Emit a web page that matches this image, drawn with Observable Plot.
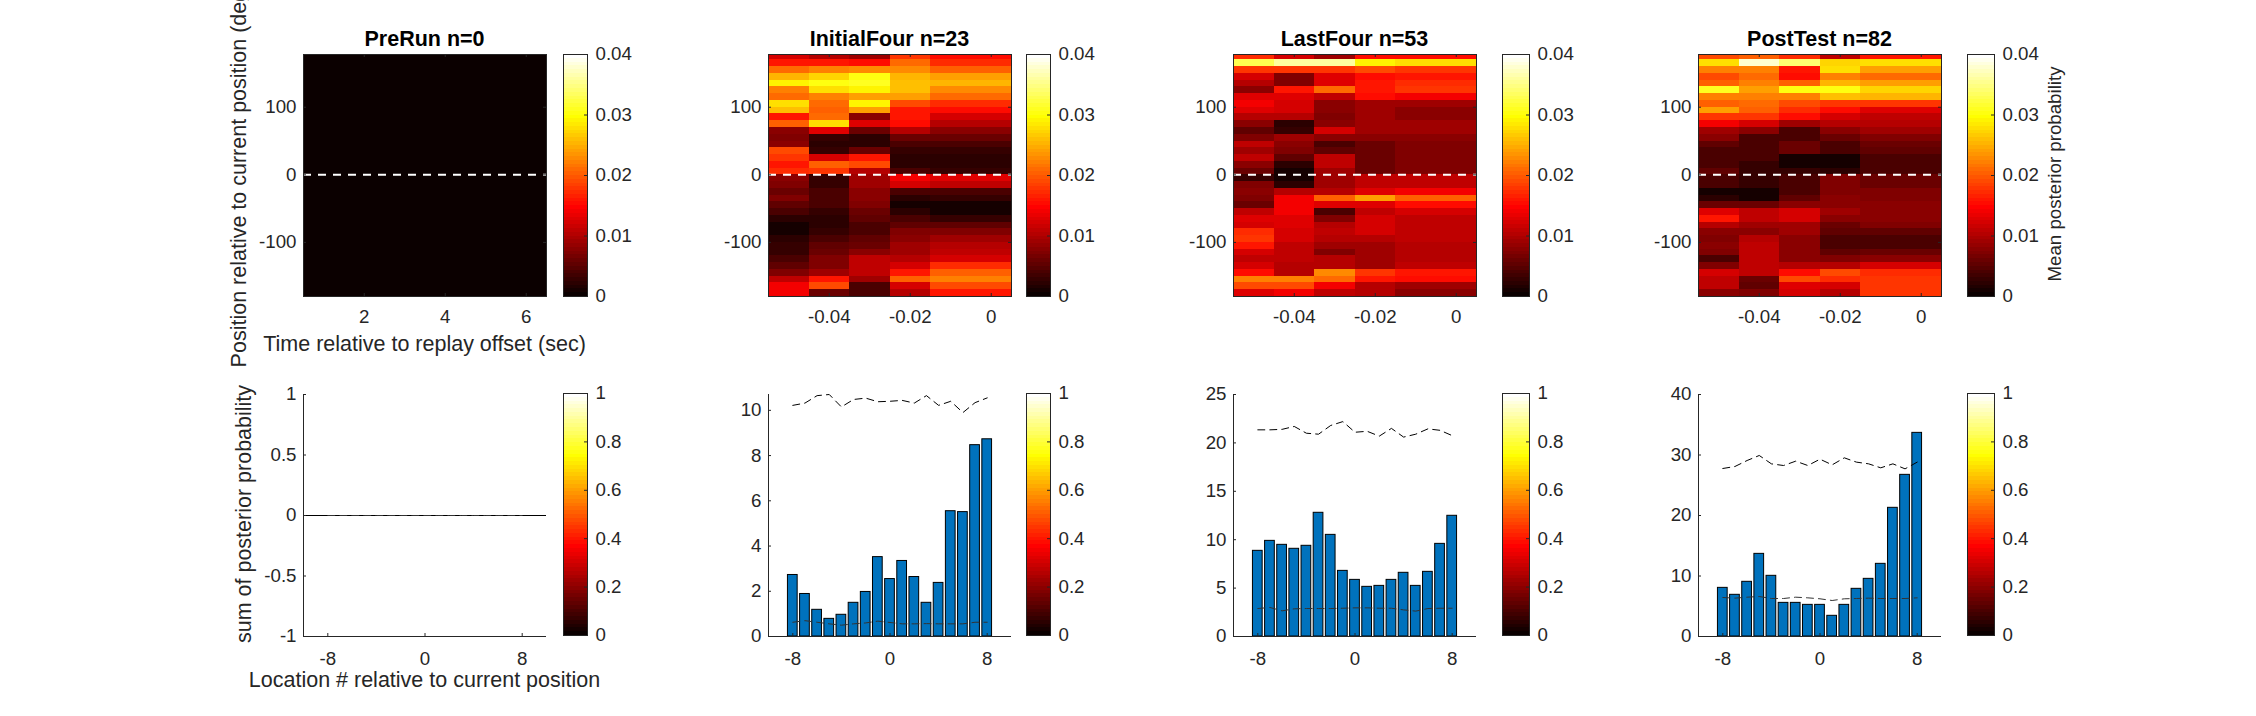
<!DOCTYPE html>
<html>
<head>
<meta charset="utf-8">
<script src="https://cdn.jsdelivr.net/npm/d3@7"></script>
<script src="https://cdn.jsdelivr.net/npm/@observablehq/plot@0.6"></script>
<style>
  html, body { margin: 0; padding: 0; background: #fff; }
  #root { position: relative; width: 2256px; height: 716px; overflow: hidden; background: #fff; }
  #root svg { overflow: visible; }
</style>
</head>
<body>
<div id="root"></div>
<script>
// ---------------- DATA ----------------
const panelTitles = ["PreRun n=0", "InitialFour n=23", "LastFour n=53", "PostTest n=82"];
const timeBins = [-0.05, -0.04, -0.03, -0.02, -0.01, 0];
const preRunTimeBins = [1, 2, 3, 4, 5, 6];
const positionBins = [175,165,155,145,135,125,115,105,95,85,75,65,55,45,35,25,15,5,-5,-15,-25,-35,-45,-55,-65,-75,-85,-95,-105,-115,-125,-135,-145,-155,-165,-175];
const heatXTicks = [-0.04, -0.02, 0];
const preRunXTicks = [2, 4, 6];
const heatYTicks = [-100, 0, 100];
const heatColorTicks = [0, 0.01, 0.02, 0.03, 0.04];
const barColorTicks = [0, 0.2, 0.4, 0.6, 0.8, 1];

// mean posterior probability maps: one array per time bin, rows from +175 deg (top) to -175 deg (bottom)
const preRunColumn = [0,0,0,0,0,0,0,0,0,0,0,0,0,0,0,0,0,0,0,0,0,0,0,0,0,0,0,0,0,0,0,0,0,0,0,0];
const preRunMap = [preRunColumn, preRunColumn, preRunColumn, preRunColumn, preRunColumn, preRunColumn];

const initialFourMap = [
 [.012,.016,.021,.025,.029,.022,.021,.028,.026,.016,.020,.008,.007,.008,.019,.018,.016,.017,.008,.007,.006,.007,.005,.004,.002,.001,.001,.002,.003,.003,.004,.005,.007,.011,.014,.014],
 [.010,.016,.022,.027,.030,.028,.022,.021,.020,.021,.028,.013,.003,.002,.003,.012,.020,.018,.003,.003,.004,.004,.004,.003,.002,.002,.003,.004,.005,.006,.007,.007,.009,.016,.019,.006],
 [.009,.015,.023,.030,.031,.029,.024,.029,.024,.008,.013,.006,.002,.002,.006,.016,.019,.010,.009,.009,.008,.008,.007,.006,.005,.004,.004,.005,.006,.008,.011,.011,.011,.009,.004,.004],
 [.018,.021,.023,.025,.026,.026,.024,.019,.016,.016,.015,.010,.006,.004,.003,.002,.002,.004,.014,.012,.004,.002,.001,.002,.004,.005,.007,.008,.009,.009,.010,.012,.016,.020,.012,.010],
 [.015,.017,.020,.024,.025,.023,.021,.017,.015,.012,.010,.008,.006,.004,.003,.002,.002,.003,.013,.011,.004,.003,.001,.001,.003,.005,.007,.009,.010,.011,.012,.017,.020,.022,.019,.016],
 [.015,.017,.020,.024,.025,.023,.021,.017,.015,.012,.010,.008,.006,.004,.003,.002,.002,.003,.013,.011,.004,.003,.001,.001,.003,.005,.007,.009,.010,.011,.012,.017,.020,.022,.019,.016]
];
const lastFourMap = [
 [.017,.033,.018,.012,.010,.008,.013,.014,.013,.010,.008,.005,.007,.011,.009,.011,.008,.006,.003,.007,.008,.007,.006,.011,.013,.012,.017,.018,.016,.012,.011,.012,.015,.022,.019,.013],
 [.012,.036,.018,.007,.007,.016,.013,.012,.012,.010,.002,.003,.009,.008,.007,.005,.002,.001,.001,.002,.010,.014,.014,.014,.013,.013,.012,.012,.011,.011,.011,.010,.010,.022,.019,.014],
 [.009,.036,.018,.013,.013,.021,.011,.008,.008,.007,.008,.012,.008,.004,.005,.011,.011,.009,.009,.009,.010,.020,.013,.004,.007,.010,.011,.010,.009,.007,.010,.010,.023,.021,.014,.011],
 [.015,.029,.019,.015,.016,.016,.015,.009,.009,.009,.009,.009,.008,.006,.006,.006,.006,.006,.011,.011,.013,.024,.013,.011,.012,.012,.012,.010,.009,.009,.009,.009,.018,.016,.010,.010],
 [.015,.028,.018,.016,.017,.018,.014,.009,.008,.008,.009,.009,.008,.007,.007,.007,.007,.007,.011,.011,.014,.020,.015,.012,.011,.011,.011,.011,.010,.010,.010,.011,.016,.015,.009,.008],
 [.015,.028,.018,.016,.017,.018,.014,.009,.008,.008,.009,.009,.008,.007,.007,.007,.007,.007,.011,.011,.014,.020,.015,.012,.011,.011,.011,.011,.010,.010,.010,.011,.016,.015,.009,.008]
];
const postTestMap = [
 [.019,.028,.022,.019,.020,.031,.022,.020,.024,.018,.014,.009,.008,.005,.004,.004,.004,.005,.004,.004,.001,.002,.006,.013,.016,.010,.008,.007,.008,.007,.004,.007,.012,.011,.011,.008],
 [.020,.038,.022,.021,.022,.024,.022,.021,.020,.018,.012,.008,.004,.004,.004,.004,.003,.003,.003,.003,.001,.001,.006,.011,.011,.009,.008,.010,.011,.011,.011,.011,.011,.006,.005,.007],
 [.017,.034,.016,.015,.020,.030,.022,.019,.017,.015,.009,.004,.004,.006,.006,.001,.001,.003,.004,.004,.004,.005,.008,.012,.012,.009,.009,.008,.008,.008,.008,.010,.015,.019,.013,.012],
 [.011,.027,.028,.022,.025,.030,.026,.018,.015,.012,.010,.008,.006,.004,.004,.001,.001,.002,.007,.007,.007,.008,.008,.009,.008,.006,.005,.004,.004,.005,.007,.010,.019,.017,.012,.010],
 [.016,.028,.024,.021,.024,.027,.025,.018,.013,.011,.010,.009,.007,.006,.005,.004,.004,.004,.006,.006,.007,.007,.008,.008,.008,.007,.005,.004,.004,.006,.008,.012,.017,.018,.018,.018],
 [.016,.028,.024,.021,.024,.027,.025,.018,.013,.011,.010,.009,.007,.006,.005,.004,.004,.004,.006,.006,.007,.007,.008,.008,.008,.007,.005,.004,.004,.006,.008,.012,.017,.018,.018,.018]
];

// sum of posterior probability per relative location
const locations = [-8,-7,-6,-5,-4,-3,-2,-1,0,1,2,3,4,5,6,7,8];
const barXTicks = [-8, 0, 8];
const preRunSums  = [0,0,0,0,0,0,0,0,0,0,0,0,0,0,0,0,0];
const preRunUpper = [0,0,0,0,0,0,0,0,0,0,0,0,0,0,0,0,0];
const preRunLower = [0,0,0,0,0,0,0,0,0,0,0,0,0,0,0,0,0];
const initialFourSums  = [2.72,1.88,1.18,0.78,0.96,1.49,1.97,3.51,2.54,3.34,2.63,1.49,2.37,5.54,5.50,8.46,8.72];
const initialFourUpper = [10.22,10.32,10.65,10.70,10.15,10.48,10.54,10.38,10.40,10.44,10.32,10.65,10.22,10.40,9.90,10.34,10.55];
const initialFourLower = [0.63,0.70,0.63,0.56,0.50,0.56,0.60,0.68,0.62,0.56,0.56,0.57,0.56,0.56,0.56,0.63,0.63];
const lastFourSums  = [8.85,9.88,9.47,9.06,9.37,12.78,10.50,6.78,5.85,5.13,5.23,5.85,6.58,5.23,6.68,9.57,12.47];
const lastFourUpper = [21.35,21.35,21.40,21.70,21.00,20.90,21.80,22.20,21.10,21.20,20.70,21.50,20.60,20.90,21.45,21.30,20.75];
const lastFourLower = [2.89,3.00,2.65,2.86,2.89,2.89,2.89,2.92,2.96,2.96,2.92,2.92,2.75,2.62,2.89,2.92,2.92];
const postTestSums  = [8.04,6.89,9.04,13.66,10.03,5.56,5.56,5.23,5.23,3.42,5.23,7.88,9.53,12.01,21.27,26.72,33.66];
const postTestUpper = [27.77,28.10,29.09,29.92,28.54,28.26,28.98,28.26,29.31,28.37,29.53,28.82,28.54,27.88,28.54,27.71,28.82];
const postTestLower = [6.45,6.34,6.50,6.61,6.28,6.28,6.50,6.39,6.23,5.95,6.23,6.28,6.34,6.28,6.28,6.28,6.39];
const barYDomains = [[-1, 1], [0, 10.7], [0, 25], [0, 40]];
const barYTicks = [[-1, -0.5, 0, 0.5, 1], [0, 2, 4, 6, 8, 10], [0, 5, 10, 15, 20, 25], [0, 10, 20, 30, 40]];

// ---------------- LAYOUT ----------------
const FONT = '"Liberation Sans", Arial, Helvetica, sans-serif';
const TXT = "#262626";
const TICK_FS = 18.7;
const LABEL_FS = 21.5;
const colLeft = [303, 768, 1233, 1698];
const axW = 243, axH = 242;
const topRowTop = 54, botRowTop = 394;
const cbLeft = [563, 1026, 1502, 1967];
const cbW = [24, 24, 27, 27];
const root = document.getElementById("root");

// MATLAB "hot" colormap, 64 levels
function hot64(i) {
  const k = i + 1;
  const r = Math.min(1, k / 24);
  const g = Math.min(1, Math.max(0, (k - 24) / 24));
  const b = Math.max(0, (k - 48) / 16);
  return `rgb(${Math.round(r * 255)},${Math.round(g * 255)},${Math.round(b * 255)})`;
}
const hotInterp = t => hot64(Math.max(0, Math.min(63, Math.floor(t * 64))));

function place(el, left, top) {
  el.style.position = "absolute";
  el.style.left = left + "px";
  el.style.top = top + "px";
  root.appendChild(el);
}
function textDiv(str, cx, cy, opts = {}) {
  const d = document.createElement("div");
  d.textContent = str;
  Object.assign(d.style, {
    position: "absolute", left: cx + "px", top: cy + "px",
    transform: "translate(-50%,-50%)" + (opts.rotate ? " rotate(-90deg)" : ""),
    fontFamily: FONT, fontSize: (opts.size || LABEL_FS) + "px", fontWeight: opts.weight || "normal",
    lineHeight: "1", whiteSpace: "nowrap", color: opts.color || TXT
  });
  root.appendChild(d);
}
const plotStyle = {fontFamily: FONT, fontSize: TICK_FS + "px", color: TXT, background: "transparent", overflow: "visible"};

function heatPanel(map, xBins, halfW, xDomain, xTicks, left, top) {
  const mL = 70, mR = 6, mT = 6, mB = 40;
  const yD = [-180, 178];
  const tick = 3;
  const xLen = (xDomain[1] - xDomain[0]) * tick / axW;
  const yLen = (yD[1] - yD[0]) * tick / axH;
  const cells = [];
  map.forEach((col, i) => col.forEach((v, j) => cells.push({
    x1: xBins[i] - halfW, x2: xBins[i] + halfW, y1: positionBins[j] - 5, y2: positionBins[j] + 5, v
  })));
  const svg = Plot.plot({
    width: axW + mL + mR, height: axH + mT + mB,
    marginLeft: mL, marginRight: mR, marginTop: mT, marginBottom: mB,
    style: plotStyle,
    x: {domain: xDomain, axis: null},
    y: {domain: yD, axis: null},
    color: {type: "linear", domain: [0, 0.04], interpolate: hotInterp, clamp: true},
    marks: [
      Plot.rect(cells, {x1: "x1", x2: "x2", y1: "y1", y2: "y2", fill: "v", clip: true, shapeRendering: "crispEdges"}),
      Plot.ruleY([0], {stroke: "white", strokeWidth: 2, strokeDasharray: "8,7"}),
      Plot.ruleX(xTicks, {y1: yD[0], y2: yD[0] + yLen, stroke: TXT}),
      Plot.ruleX(xTicks, {y1: yD[1] - yLen, y2: yD[1], stroke: TXT}),
      Plot.ruleY(heatYTicks, {x1: xDomain[0], x2: xDomain[0] + xLen, stroke: TXT}),
      Plot.ruleY(heatYTicks, {x1: xDomain[1] - xLen, x2: xDomain[1], stroke: TXT}),
      Plot.frame({stroke: TXT}),
      Plot.axisX(xTicks, {tickSize: 0, tickPadding: 13.5, tickFormat: d => String(d), label: null}),
      Plot.axisY(heatYTicks, {tickSize: 0, tickPadding: 7, tickFormat: d => String(d), label: null})
    ]
  });
  place(svg, left - mL, top - mT);
}

function colorbar(max, ticks, left, top, w) {
  const mL = 2, mR = 50, mT = 12, mB = 12, h = 242;
  const levels = d3.range(64);
  const tick = 3;
  const svg = Plot.plot({
    width: w + mL + mR, height: h + mT + mB,
    marginLeft: mL, marginRight: mR, marginTop: mT, marginBottom: mB,
    style: plotStyle,
    x: {domain: [0, 1], axis: null},
    y: {domain: [0, max], axis: null},
    color: {type: "identity"},
    marks: [
      Plot.rect(levels, {x1: 0, x2: 1, y1: i => i * max / 64, y2: i => (i + 1) * max / 64, fill: i => hot64(i), shapeRendering: "crispEdges"}),
      Plot.ruleY(ticks, {x1: 1 - tick / w, x2: 1, stroke: TXT}),
      Plot.frame({stroke: TXT}),
      Plot.axisY(ticks, {anchor: "right", tickSize: 0, tickPadding: 8, tickFormat: d => String(d), label: null})
    ]
  });
  place(svg, left - mL, top - mT);
}

function barPanel(sums, upper, lower, yDomain, yTicks, left, top, drawBaseline) {
  const mL = 70, mR = 6, mT = 10, mB = 40;
  const xD = [-10, 10];
  const tick = 3;
  const xLen = (xD[1] - xD[0]) * tick / axW;
  const yLen = (yDomain[1] - yDomain[0]) * tick / axH;
  const bars = locations.map((loc, i) => ({loc, v: sums[i]}));
  const up = locations.map((loc, i) => ({loc, v: upper[i]}));
  const lo = locations.map((loc, i) => ({loc, v: lower[i]}));
  const svg = Plot.plot({
    width: axW + mL + mR, height: axH + mT + mB,
    marginLeft: mL, marginRight: mR, marginTop: mT, marginBottom: mB,
    style: plotStyle,
    x: {domain: xD, axis: null},
    y: {domain: yDomain, axis: null},
    marks: [
      Plot.rect(bars, {x1: d => d.loc - 0.4, x2: d => d.loc + 0.4, y1: 0, y2: "v", fill: "#0072BD", stroke: "black", strokeWidth: 1}),
      drawBaseline ? Plot.ruleY([0], {stroke: "black", strokeWidth: 1}) : null,
      Plot.line(up, {x: "loc", y: "v", stroke: "black", strokeWidth: 1, strokeDasharray: "7,5"}),
      Plot.line(lo, {x: "loc", y: "v", stroke: "#333", strokeWidth: 1, strokeDasharray: "7,5"}),
      Plot.ruleX(barXTicks, {y1: yDomain[0], y2: yDomain[0] + yLen, stroke: TXT}),
      Plot.ruleY(yTicks, {x1: xD[0], x2: xD[0] + xLen, stroke: TXT}),
      Plot.ruleX([xD[0]], {stroke: TXT}),
      Plot.ruleY([yDomain[0]], {stroke: TXT}),
      Plot.axisX(barXTicks, {tickSize: 0, tickPadding: 15, tickFormat: d => String(d), label: null}),
      Plot.axisY(yTicks, {tickSize: 0, tickPadding: 7, tickFormat: d => String(d), label: null})
    ]
  });
  place(svg, left - mL, top - mT);
}

// ---------------- DRAW ----------------
const maps = [preRunMap, initialFourMap, lastFourMap, postTestMap];
const sumsList = [preRunSums, initialFourSums, lastFourSums, postTestSums];
const upperList = [preRunUpper, initialFourUpper, lastFourUpper, postTestUpper];
const lowerList = [preRunLower, initialFourLower, lastFourLower, postTestLower];

for (let c = 0; c < 4; c++) {
  if (c === 0) heatPanel(maps[0], preRunTimeBins, 0.5, [0.5, 6.5], preRunXTicks, colLeft[c], topRowTop);
  else heatPanel(maps[c], timeBins, 0.005, [-0.055, 0.005], heatXTicks, colLeft[c], topRowTop);
  colorbar(0.04, heatColorTicks, cbLeft[c], 54, cbW[c]);
  barPanel(sumsList[c], upperList[c], lowerList[c], barYDomains[c], barYTicks[c], colLeft[c], botRowTop, c === 0);
  colorbar(1, barColorTicks, cbLeft[c], 393, cbW[c]);
  textDiv(panelTitles[c], colLeft[c] + axW / 2, 40, {weight: "bold", color: "#000"});
}

textDiv("Position relative to current position (deg)", 240, 175, {rotate: true});
textDiv("Time relative to replay offset (sec)", colLeft[0] + axW / 2, 345);
textDiv("sum of posterior probability", 245, 514, {rotate: true});
textDiv("Location # relative to current position", colLeft[0] + axW / 2, 681);
textDiv("Mean posterior probability", 2054.5, 174, {rotate: true, size: TICK_FS});
</script>
</body>
</html>
